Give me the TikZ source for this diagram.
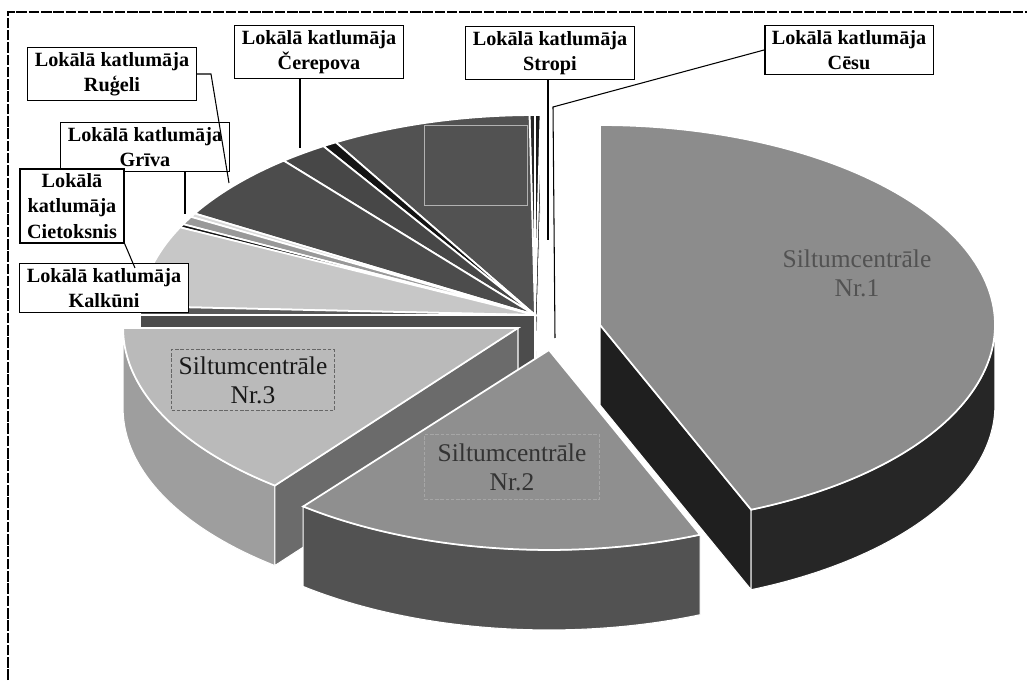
\documentclass[tikz,border=0pt]{standalone}
\usepackage{fontspec}
\setmainfont{Liberation Serif}
\usetikzlibrary{calc}

\newcommand{\pieA}{7.9cm}
\newcommand{\pieB}{4cm}
% top of a slice: centre, start, end, colour
\newcommand{\pietop}[4]{\fill[#4,draw=white,line width=1pt] (#1) -- ($(#1)+(#2:{\pieA} and {\pieB})$) arc[start angle=#2,end angle=#3,x radius=\pieA,y radius=\pieB] -- cycle;}
% outer wall of a slice
\newcommand{\pieside}[4]{\fill[#4,draw=white,line width=0.6pt] ($(#1)+(#2:{\pieA} and {\pieB})$) arc[start angle=#2,end angle=#3,x radius=\pieA,y radius=\pieB] -- ++(0,-80) arc[start angle=#3,end angle=#2,x radius=\pieA,y radius=\pieB] -- cycle;}
% cut face of a slice
\newcommand{\pieface}[3]{\fill[#3,draw=white,line width=0.6pt] (#1) -- ($(#1)+(#2:{\pieA} and {\pieB})$) -- ++(0,-80) -- ($(#1)+(0,-80)$) -- cycle;}

\begin{document}
\begin{tikzpicture}[x=0.02cm,y=0.02cm,
    lbl/.style={draw,fill=white,line width=0.8pt,align=center,
      font=\fontsize{11.5}{14.5}\selectfont\bfseries,inner xsep=4pt,inner ysep=2.5pt},
    nrlbl/.style={align=center,font=\fontsize{14.5}{16.5}\selectfont,inner sep=4pt},
    leader/.style={line width=0.6pt}]

  \useasboundingbox (0,0) rectangle (1027,680);
  \draw[line width=0.8pt,dash pattern=on 6pt off 1pt] (8,0) -- (8,668) -- (1027,668);

  % centres of the pieces
  \coordinate (grp) at (535,365);
  \coordinate (nr1) at (600,355);
  \coordinate (nr2) at (549,330);
  \coordinate (nr3) at (518,352);

  % back group
  \pieface{grp}{89.2}{black!90}
  \pieface{grp}{180}{black!70}
  \pietop{grp}{89.2}{90}{black!90}
  \pietop{grp}{90}{90.8}{black!85}
  \pietop{grp}{90.8}{120.3}{black!68}
  \pietop{grp}{120.3}{122.4}{black!92}
  \pietop{grp}{122.4}{129.5}{black!72}
  \pietop{grp}{129.5}{149.5}{black!70}
  \pietop{grp}{149.5}{150.6}{black!15}
  \pietop{grp}{150.6}{153}{black!40}
  \pietop{grp}{153}{154}{black!92}
  \pietop{grp}{154}{177.5}{black!22}
  \pietop{grp}{177.5}{180}{black!65}

  % Nr.1
  \pieface{nr1}{-67.5}{black!88}
  \pieside{nr1}{-67.5}{0}{black!85}
  \pietop{nr1}{-67.5}{90}{black!45}

  % Nr.3
  \pieside{nr3}{180}{232}{black!38}
  \pieface{nr3}{232}{black!58}
  \pietop{nr3}{180}{232}{black!27}

  % Nr.2
  \pieside{nr2}{231.5}{292.5}{black!68}
  \pietop{nr2}{231.5}{292.5}{black!44}

  \node[nrlbl,text=black!68] (nr1lbl) at (857,407) {Siltumcentrāle\\Nr.1};
  \node[nrlbl,text=black!80,draw=black!35,dash pattern=on 2pt off 1pt,
    minimum width=3.5cm,minimum height=1.3cm] (nr2lbl) at (512,213) {Siltumcentrāle\\Nr.2};
  \node[nrlbl,text=black!90,draw=black!60,dash pattern=on 2pt off 1pt,
    minimum width=3.24cm,minimum height=1.2cm] (nr3lbl) at (253,300) {Siltumcentrāle\\Nr.3};
  \node[draw=black!30,minimum width=2.06cm,minimum height=1.6cm] (citilbl) at (476,515) {};

  % label ends
  \coordinate (rugelibend) at (211,606);
  \coordinate (rugelipt) at (229,497);
  \coordinate (cerepovapt) at (300,532);
  \coordinate (stropipt) at (548,440);
  \coordinate (cesubend) at (553,573);
  \coordinate (cesupt) at (555,342);
  \coordinate (grivapt) at (185,466);
  \coordinate (cietpt) at (135,412);

  \node[lbl] (rugeli) at (112,606) {Lokālā katlumāja\\Ruģeli};
  \node[lbl] (cerepova) at (319,628) {Lokālā katlumāja\\Čerepova};
  \node[lbl] (stropi) at (550,627) {Lokālā katlumāja\\Stropi};
  \node[lbl] (cesu) at (849,630) {Lokālā katlumāja\\Cēsu};
  \node[lbl] (griva) at (145,533) {Lokālā katlumāja\\Grīva};
  \node[lbl] (cietoksnis) at (72,474) {Lokālā\\katlumāja\\Cietoksnis};
  \node[lbl] (kalkuni) at (104,392) {Lokālā katlumāja\\Kalkūni};

  \draw[leader] (rugeli.east) -- (rugelibend) -- (rugelipt);
  \draw[leader] (cerepova.south -| cerepovapt) -- (cerepovapt);
  \draw[leader] (stropi.south -| stropipt) -- (stropipt);
  \draw[leader] (cesu.west) -- (cesubend) -- (cesupt);
  \draw[leader] (griva.south -| grivapt) -- (grivapt);
  \draw[leader] (cietoksnis.south east) -- (cietpt);

\end{tikzpicture}
\end{document}
